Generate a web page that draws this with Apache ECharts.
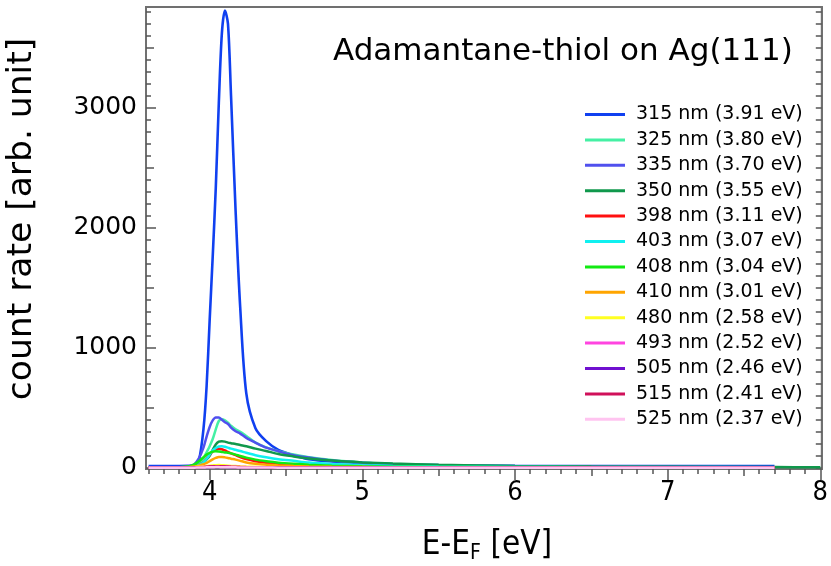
<!DOCTYPE html>
<html>
<head>
<meta charset="utf-8">
<script src="https://cdn.jsdelivr.net/npm/echarts@6/dist/echarts.min.js"></script>
<style>
html,body{margin:0;padding:0;background:#fff;}
#chart{width:831px;height:566px;}
</style>
</head>
<body>
<div id="chart"></div>
<script>
// ---- data ----
const energy = [3.6, 3.8, 3.86, 3.9, 3.93, 3.96, 3.98, 4.0, 4.02, 4.04, 4.06, 4.08, 4.1, 4.12, 4.14, 4.17, 4.2, 4.24, 4.3, 4.37, 4.45, 4.55, 4.65, 4.8, 5.0, 5.2, 5.5, 6.0, 6.5, 7.0, 7.7, 8.0];

const seriesNames = ['315 nm (3.91 eV)','325 nm (3.80 eV)','335 nm (3.70 eV)','350 nm (3.55 eV)','398 nm (3.11 eV)','403 nm (3.07 eV)','408 nm (3.04 eV)','410 nm (3.01 eV)','480 nm (2.58 eV)','493 nm (2.52 eV)','505 nm (2.46 eV)','515 nm (2.41 eV)','525 nm (2.37 eV)'];

const s315 = [15,15,16,22,65,330,680,1230,1760,2330,3040,3620,3810,3700,3100,2140,1340,620,330,222,150,105,72,52,38,28,22,17,15,15,15,null];
const s325 = [5,5,8,15,35,80,130,180,240,320,390,405,395,375,350,320,300,265,210,170,138,110,88,65,45,32,22,13,9,7,5,null];
const s335 = [5,5,10,30,80,170,260,340,395,420,420,400,380,365,335,305,285,250,210,168,138,105,85,60,42,30,20,12,8,6,5,null];
const s350 = [5,5,8,15,25,45,70,100,150,195,218,222,218,210,205,198,190,180,160,140,115,95,78,60,45,35,25,15,10,8,6,5];
const s398 = [3,3,6,12,25,45,80,110,135,150,158,155,145,132,120,105,90,72,55,42,30,22,16,11,8,6,5,4,3,3,3,null];
const s403 = [4,4,6,12,25,45,75,110,145,165,177,180,176,168,160,150,140,125,105,88,72,58,44,32,22,16,11,7,5,4,4,null];
const s408 = [4,4,10,28,55,88,110,125,135,138,136,132,128,125,120,110,98,85,68,55,43,33,25,18,12,9,7,5,4,4,4,null];
const s410 = [3,3,5,10,18,30,40,55,70,82,90,90,87,82,76,68,58,45,34,26,20,15,11,8,6,5,4,3,3,3,3,null];
const s480 = [2,2,3,5,8,12,15,18,20,22,23,22,20,18,16,14,12,10,8,6,5,4,3,3,2,2,2,2,2,2,2,null];
const s493 = [1,1,2,3,5,7,9,11,12,13,13,12,11,10,9,8,7,6,5,4,3,3,2,2,2,1,1,1,1,1,1,null];
const s505 = [1,1,1,2,3,4,5,6,7,7,7,7,6,6,5,5,4,4,3,3,2,2,2,1,1,1,1,1,1,1,1,null];
const s515 = [0,0,1,2,4,6,8,10,11,12,12,11,10,9,8,7,6,5,4,3,3,2,2,1,1,1,1,0,0,0,0,null];
const s525 = [0,0,0,1,2,3,4,5,5,6,6,5,5,5,4,4,3,3,2,2,1,1,1,1,0,0,0,0,0,0,0,null];

const seriesValues = [s315,s325,s335,s350,s398,s403,s408,s410,s480,s493,s505,s515,s525];

const xTickLabels = [4,5,6,7,8];
const yTickLabels = [0,1000,2000,3000];

// ---- styling ----
const colors = ['#1040f0','#44f0a4','#5050ee','#10984c','#ff1010','#10f0f0','#12ea12','#ffa500','#ffff22','#ff44e0','#7010d0','#d0105a','#ffc4f0'];
const FONT = 'DejaVu Sans';
const XFONT = '"DejaVu Sans Condensed", "DejaVu Sans"';
const axisGray = '#707070';
const tickGray = '#555555';

function range(a, b, step) { // tick positions only
  const out = []; const n = Math.round((b - a) / step);
  for (let i = 0; i <= n; i++) out.push(+(a + i * step).toFixed(6));
  return out;
}
const xHalf = [4.5,5.5,6.5,7.5];
const xMinor = range(3.6, 8.0, 0.1);
const yHalf = [500,1500,2500,3500];
const yMinor = range(0, 3800, 100);

const XMIN = 3.583, XMAX = 8.01, YMIN = -10, YMAX = 3840;

function xAx(ticks, len, labels, line) {
  return {
    type:'value', min:XMIN, max:XMAX, position:'bottom',
    axisLine:{show:line, onZero:false, lineStyle:{color:axisGray, width:2}},
    axisTick:{show:true, customValues:ticks, length:len, inside:false, lineStyle:{color:tickGray, width:1.5}},
    axisLabel: labels ? {show:true, customValues:labels, color:'#000', fontFamily:XFONT, fontSize:27, margin:10, formatter: v => String(v)} : {show:false},
    splitLine:{show:false}
  };
}
function yAx(pos, ticks, len, labels, line) {
  return {
    type:'value', min:YMIN, max:YMAX, position:pos,
    axisLine:{show:line, onZero:false, lineStyle:{color:axisGray, width:2}},
    axisTick:{show:true, customValues:ticks, length:len, inside:true, lineStyle:{color:tickGray, width:1.5}},
    axisLabel: labels ? {show:true, customValues:labels, color:'#000', fontFamily:FONT, fontSize:25, margin:9, formatter: v => String(v)} : {show:false},
    splitLine:{show:false}
  };
}

const chart = echarts.init(document.getElementById('chart'), null, {renderer:'canvas'});

const series = seriesNames.map((name, i) => ({
  name: name,
  type: 'line',
  xAxisIndex: 0, yAxisIndex: 0,
  data: energy.map((e, k) => [e, seriesValues[i][k]]),
  showSymbol: false, symbol: 'none',
  smooth: 0.3,
  connectNulls: false,
  lineStyle: {color: colors[i], width: i === 0 ? 2.6 : 2.5},
  itemStyle: {color: colors[i]},
  emphasis: {disabled: true},
  animation: false
}));

chart.setOption({
  animation: false,
  backgroundColor: '#fff',
  grid: {left:146, right:6, top:7, bottom:97, show:true, borderColor:axisGray, borderWidth:2, containLabel:false},
  title: {text:'Adamantane-thiol on Ag(111)', left:333, top:36, padding:0,
          textStyle:{fontFamily:FONT, fontSize:31, fontWeight:'normal', color:'#000'}},
  legend: {
    orient:'vertical', left:585, top:102, padding:0, itemGap:0.4,
    icon:'rect', itemWidth:40, itemHeight:3,
    selectedMode:false,
    textStyle:{fontFamily:FONT, fontSize:19, color:'#000', lineHeight:25, padding:[0,0,0,6]},
    data: seriesNames
  },
  xAxis: [
    xAx(xTickLabels, 11, xTickLabels, true),
    xAx(xHalf, 7, null, false),
    xAx(xMinor, 5, null, false)
  ],
  yAxis: [
    yAx('left', yTickLabels, 10, yTickLabels, true),
    yAx('left', yHalf, 8, null, false),
    yAx('left', yMinor, 5, null, false),
    yAx('right', yMinor, 6, null, true)
  ],
  graphic: [
    {type:'text', x:22, y:219, rotation:Math.PI/2,
     style:{text:'count rate [arb. unit]', fontFamily:FONT, fontSize:34.5, fill:'#000', align:'center', verticalAlign:'middle'}},
    {type:'text', x:487, y:545,
     style:{text:'{a|E-E}{s|F}{a| [eV]}', fill:'#000', align:'center', verticalAlign:'middle',
            rich:{a:{fontFamily:XFONT, fontSize:33, lineHeight:38}, s:{fontFamily:XFONT, fontSize:21, lineHeight:14, verticalAlign:'bottom'}}}}
  ],
  series: series
});
</script>
</body>
</html>
